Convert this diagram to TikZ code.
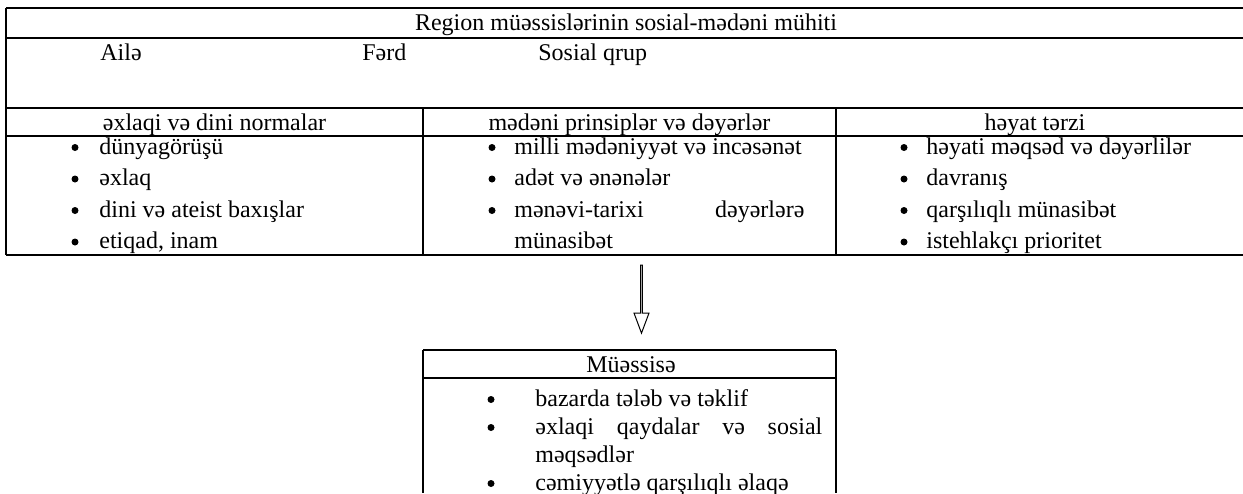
\documentclass[tikz,border=0pt]{standalone}
\usepackage{fontspec}
\setmainfont{Liberation Serif}
\usetikzlibrary{shapes.arrows}

\begin{document}
\begin{tikzpicture}[x=0.5pt, y=-0.5pt, font=\fontsize{12pt}{14pt}\selectfont,
    rule/.style={line width=0.9pt},
    lft/.style={anchor=base west, inner sep=0pt},
    mid/.style={anchor=base, inner sep=0pt},
    blt/.style={circle, fill, inner sep=0pt, minimum size=3.5pt}]
    \useasboundingbox (0,0) rectangle (1243,493);

    % upper table
    \draw[rule] (6,8) -- (1243,8);
    \draw[rule] (6,38) -- (1243,38);
    \draw[rule] (6,108) -- (1243,108);
    \draw[rule] (6,136) -- (1243,136);
    \draw[rule] (6,255) -- (1243,255);
    \draw[rule] (6,8) -- (6,255);
    \draw[rule] (423,108) -- (423,255);
    \draw[rule] (836,108) -- (836,255);

    \node[mid] (hdr) at (626,30) {Region müəssislərinin sosial-mədəni mühiti};
    \node[lft] (aile) at (100,60) {Ailə};
    \node[lft] (ferd) at (362,60) {Fərd};
    \node[lft] (sosq) at (538,60) {Sosial qrup};

    \node[mid] (cola) at (214.5,130) {əxlaqi və dini normalar};
    \node[mid] (colb) at (629.5,130) {mədəni prinsiplər və dəyərlər};
    \node[mid] (colc) at (1035,130) {həyat tərzi};

    \node[blt] (da1) at (75,147.5) {};
    \node[blt] (da2) at (75,179) {};
    \node[blt] (da3) at (75,210.5) {};
    \node[blt] (da4) at (75,242) {};
    \node[lft] (a1) at (99,154) {dünyagörüşü};
    \node[lft] (a2) at (99,185.5) {əxlaq};
    \node[lft] (a3) at (99,217) {dini və ateist baxışlar};
    \node[lft] (a4) at (99,248.5) {etiqad, inam};

    \node[blt] (db1) at (492,147.5) {};
    \node[blt] (db2) at (492,179) {};
    \node[blt] (db3) at (492,210.5) {};
    \node[lft] (b1) at (514,154) {milli mədəniyyət və incəsənət};
    \node[lft] (b2) at (514,185.5) {adət və ənənələr};
    \node[lft] (b3) at (514,217) {\makebox[145pt][s]{mənəvi-tarixi dəyərlərə}};
    \node[lft] (b4) at (514,248.5) {münasibət};

    \node[blt] (dc1) at (904,147.5) {};
    \node[blt] (dc2) at (904,179) {};
    \node[blt] (dc3) at (904,210.5) {};
    \node[blt] (dc4) at (904,242) {};
    \node[lft] (c1) at (926,154) {həyati məqsəd və dəyərlilər};
    \node[lft] (c2) at (926,185.5) {davranış};
    \node[lft] (c3) at (926,217) {qarşılıqlı münasibət};
    \node[lft] (c4) at (926,248.5) {istehlakçı prioritet};

    % arrow
    \node[single arrow, draw, line width=0.5pt, shape border rotate=270,
          minimum height=34pt, minimum width=7.5pt, single arrow head extend=2pt,
          single arrow tip angle=41, inner sep=0pt] (arr) at (641.5,298) {};

    % lower box
    \draw[rule] (423,350) -- (836,350);
    \draw[rule] (423,378) -- (836,378);
    \draw[rule] (423,350) -- (423,493);
    \draw[rule] (836,350) -- (836,493);

    \node[mid] (mues) at (631,372) {Müəssisə};
    \node[blt] (dm1) at (491,399.5) {};
    \node[blt] (dm2) at (491,427.5) {};
    \node[blt] (dm3) at (491,483.5) {};
    \node[lft] (m1) at (535,406) {bazarda tələb və təklif};
    \node[lft] (m2) at (535,434) {\makebox[143.5pt][s]{əxlaqi qaydalar və sosial}};
    \node[lft] (m3) at (535,462) {məqsədlər};
    \node[lft] (m4) at (535,490) {cəmiyyətlə qarşılıqlı əlaqə};
\end{tikzpicture}
\end{document}
